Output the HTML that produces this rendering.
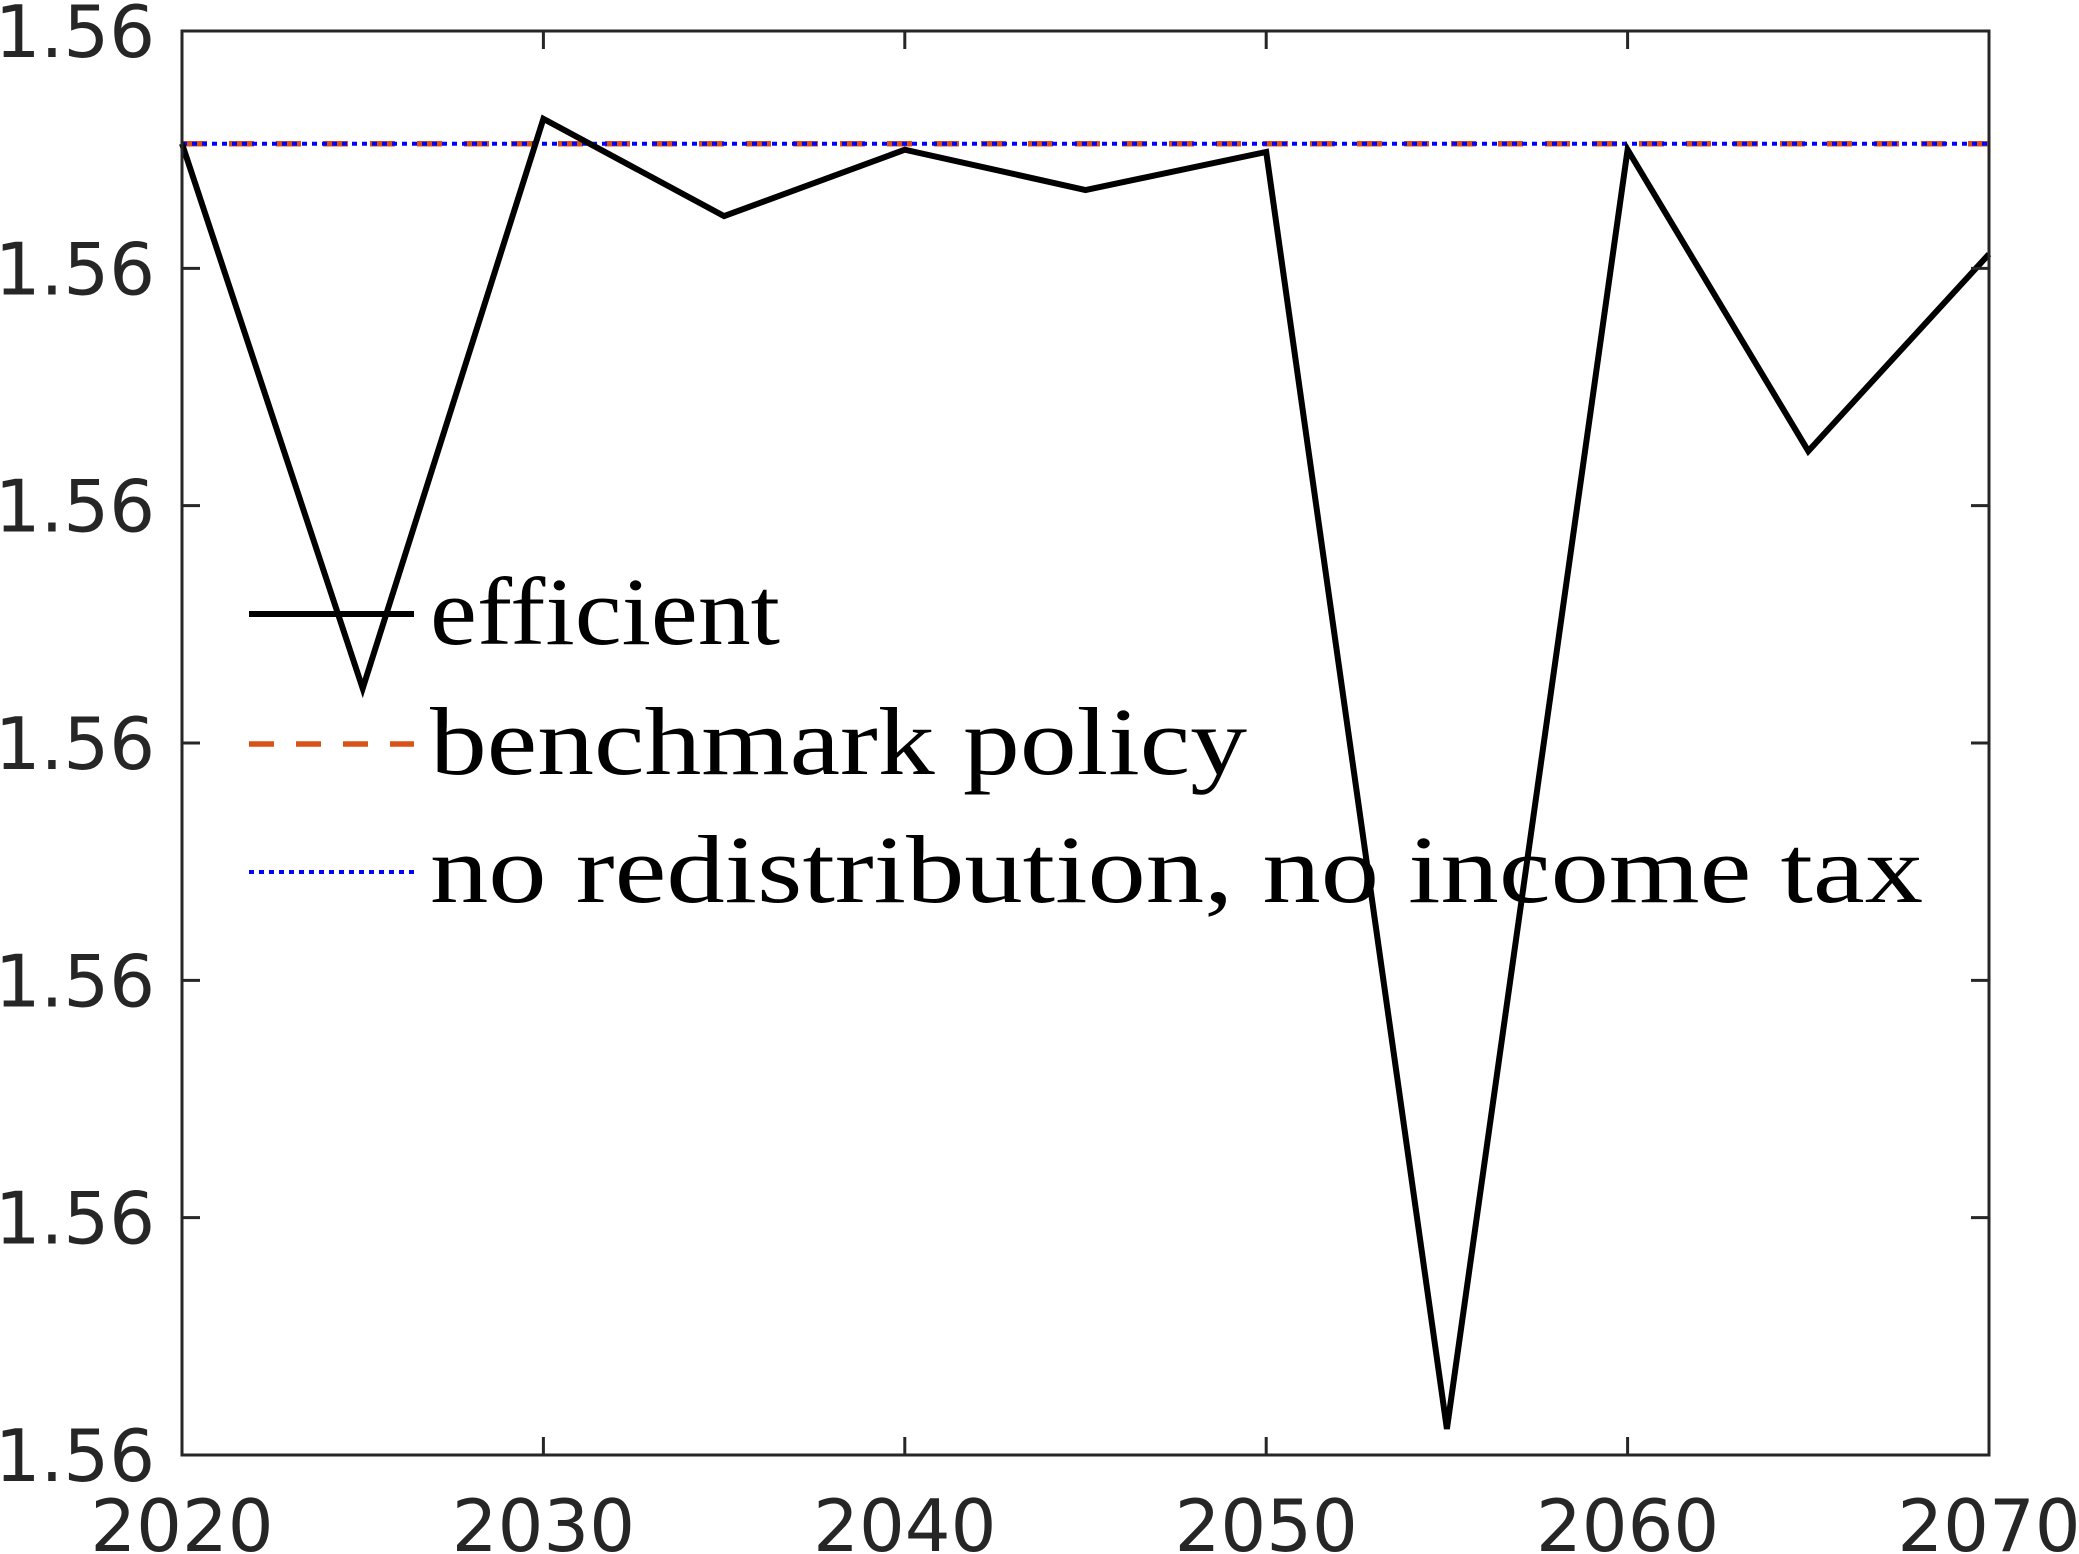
<!DOCTYPE html>
<html><head><meta charset="utf-8"><style>
html,body{margin:0;padding:0;background:#fff;}
svg{display:block;}
</style></head><body>
<svg id="chart" width="2079" height="1554" viewBox="0 0 2079 1554" xmlns="http://www.w3.org/2000/svg">
<rect x="0" y="0" width="2079" height="1554" fill="#fff"/>
<g id="plot"></g>
<g id="axes"></g>
<g id="legend"></g>
</svg>
<script>
const years = [2020,2025,2030,2035,2040,2045,2050,2055,2060,2065,2070];
const efficientValues = [5.525,3.23,5.63,5.22,5.50,5.33,5.49,0.11,5.50,4.23,5.06];
const benchmarkValues = [5.525,5.525];
const noRedistValues = [5.525,5.525];
const flatYears = [2020,2070];
const xTicks = [2020,2030,2040,2050,2060,2070];
const yTicks = [0,1,2,3,4,5,6];
const yTickLabels = ["1.56","1.56","1.56","1.56","1.56","1.56","1.56"];

const L=182,R=1989,T=31,B=1455;
const xMin=2020,xMax=2070,yMin=0,yMax=6;
function xs(v){return L+(v-xMin)/(xMax-xMin)*(R-L);}
function ys(v){return B-(v-yMin)/(yMax-yMin)*(B-T);}
const NS="http://www.w3.org/2000/svg";
function mk(tag,attrs,parent){const e=document.createElementNS(NS,tag);for(const k in attrs)e.setAttribute(k,attrs[k]);parent.appendChild(e);return e;}
const plot=document.getElementById('plot'),axes=document.getElementById('axes'),legend=document.getElementById('legend');

function pts(xv,yv){return xv.map((x,i)=>xs(x).toFixed(1)+','+ys(yv[i]).toFixed(1)).join(' ');}
let p=mk('polyline',{points:pts(flatYears,benchmarkValues),fill:'none',stroke:'#D95319','stroke-width':5.5,'stroke-dasharray':'25 22'},plot);


p=mk('polyline',{points:pts(flatYears,noRedistValues),fill:'none',stroke:'#0000FF','stroke-width':4,'stroke-dasharray':'5 5'},plot);


p=mk('polyline',{points:pts(years,efficientValues),fill:'none',stroke:'#000','stroke-width':6,'stroke-linejoin':'miter'},plot);



let box=mk('rect',{x:L,y:T,width:R-L,height:B-T,fill:'none',stroke:'#262626','stroke-width':3},axes);


const tl=18;
xTicks.forEach(v=>{
  const x=xs(v);
  let t=mk('path',{d:`M${x},${B}V${B-tl}M${x},${T}V${T+tl}`,stroke:'#262626','stroke-width':3},axes);
  
  
  let lb=mk('text',{x:x,y:1551,'text-anchor':'middle','font-family':'DejaVu Sans, Liberation Sans, sans-serif','font-size':72,fill:'#262626'},axes);
  lb.textContent=v;
  
  
});
yTicks.forEach((v,i)=>{
  const y=ys(v);
  let t=mk('path',{d:`M${L},${y}H${L+tl}M${R},${y}H${R-tl}`,stroke:'#262626','stroke-width':3},axes);
  
  
  let lb=mk('text',{x:155,y:y+26,'text-anchor':'end','font-family':'DejaVu Sans, Liberation Sans, sans-serif','font-size':72,fill:'#262626'},axes);
  lb.textContent=yTickLabels[i];
  
  
});

const entries=[
  {name:'efficient',y:614,stroke:'#000',w:6,dash:'',len:350},
  {name:'benchmark policy',y:744,stroke:'#D95319',w:5.5,dash:'25 22',len:817},
  {name:'no redistribution, no income tax',y:872,stroke:'#0000FF',w:4,dash:'5 5',len:1493}
];
entries.forEach(e=>{
  let g=mk('g',{},legend);
  
  
  let ln=mk('line',{x1:249,x2:414,y1:e.y,y2:e.y,stroke:e.stroke,'stroke-width':e.w,'stroke-dasharray':e.dash},g);
  
  
  let tx=mk('text',{x:430,y:e.y+30,'font-family':'Liberation Serif, serif','font-size':96,fill:'#000',textLength:e.len,lengthAdjust:'spacingAndGlyphs'},g);
  tx.textContent=e.name;
  
  
});
</script>
</body></html>
